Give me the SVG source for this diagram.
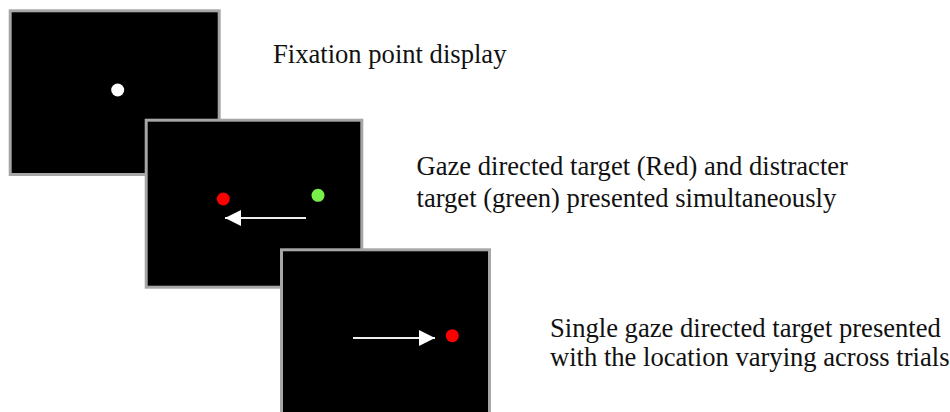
<svg xmlns="http://www.w3.org/2000/svg" width="950" height="412" viewBox="0 0 950 412">
  <style>
    .panel { fill: #000000; stroke: #a6a6a6; stroke-width: 3; }
    .lbl { font-family: "Liberation Serif", "Times New Roman", serif; font-size: 26.6px; fill: #111111; }
    .conn { stroke: #eeeeee; stroke-width: 2; fill: none; }
  </style>
  <defs>
    <marker id="ah" markerUnits="userSpaceOnUse" markerWidth="16" markerHeight="16" refX="16" refY="8" orient="auto">
      <path d="M0,0 L16,8 L0,16 Z" fill="#ffffff"/>
    </marker>
  </defs>
  <rect width="950" height="412" fill="#ffffff"/>

  <g id="panel-fixation">
    <rect class="panel" x="10.2" y="10.8" width="209" height="163.7"/>
    <circle cx="117.7" cy="90" r="6.5" fill="#ffffff"/>
  </g>
  <g id="label-fixation">
    <text class="lbl" x="273" y="63">Fixation point display</text>
  </g>

  <g id="panel-distracter">
    <rect class="panel" x="146.2" y="120.2" width="215.6" height="167"/>
    <circle cx="223.3" cy="199" r="6.5" fill="#ff0000"/>
    <circle cx="318" cy="195.3" r="6.5" fill="#79f04a"/>
  </g>
  <g id="label-distracter">
    <text class="lbl" x="416.5" y="175">Gaze directed target (Red) and distracter</text>
    <text class="lbl" x="416.5" y="207">target (green) presented simultaneously</text>
  </g>

  <g id="panel-single">
    <rect class="panel" x="281.5" y="249.8" width="208" height="175"/>
    <circle cx="452.3" cy="335.7" r="6.5" fill="#ff0000"/>
  </g>
  <g id="label-single">
    <text class="lbl" x="550" y="337">Single gaze directed target presented</text>
    <text class="lbl" x="550" y="366">with the location varying across trials</text>
  </g>

  <g id="connectors">
    <line class="conn" x1="306" y1="218" x2="225" y2="218" marker-end="url(#ah)"/>
    <line class="conn" x1="353" y1="338" x2="435" y2="338" marker-end="url(#ah)"/>
  </g>
</svg>
